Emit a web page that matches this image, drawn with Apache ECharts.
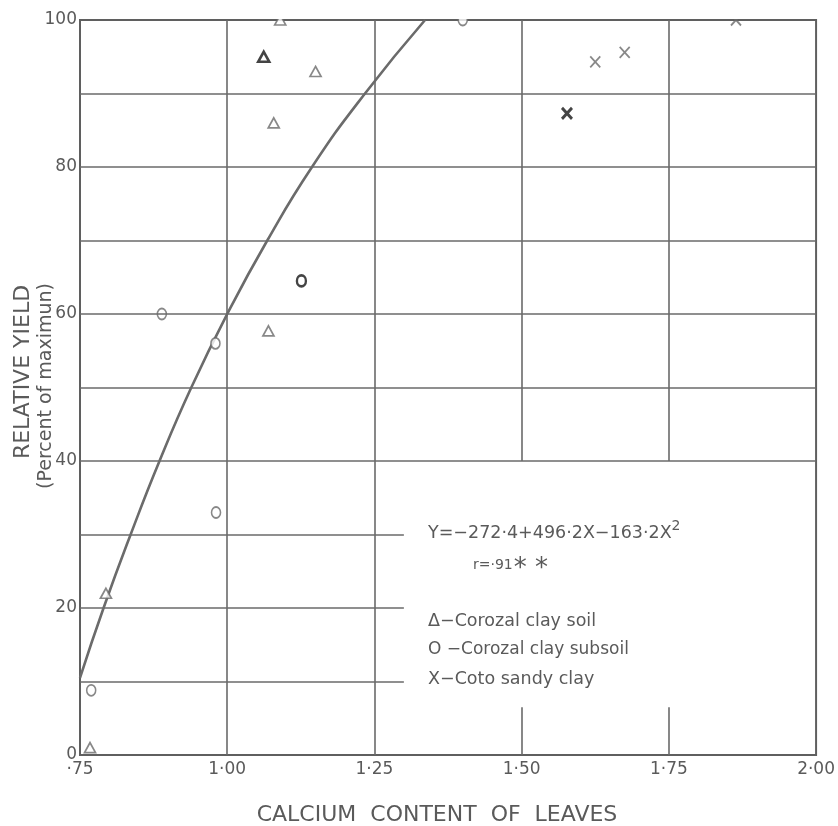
<!DOCTYPE html>
<html>
<head>
<meta charset="utf-8">
<script src="https://cdn.jsdelivr.net/npm/echarts@6/dist/echarts.min.js"></script>
<style>
html,body{margin:0;padding:0;background:#fff;}
#chart{width:838px;height:826px;}
</style>
</head>
<body>
<div id="chart"></div>
<script>
// ---- data ----
const xTickLabels = ['·75', '1·00', '1·25', '1·50', '1·75', '2·00'];
const yTickLabels = ['0', '20', '40', '60', '80', '100'];

// fitted curve
const curveX = [0.75, 0.790, 0.836, 0.885, 0.939, 1.00, 1.068, 1.144, 1.234, 1.336];
const curveY = [10.5, 20, 30, 40, 50, 60, 70, 80, 90, 100];

// Δ Corozal clay soil
const soilX = [1.09, 1.062, 1.15, 1.079, 1.07, 0.794, 0.767];
const soilY = [100, 95, 93, 86, 57.7, 22, 1];
const soilBold = [1];

// O Corozal clay subsoil
const subsoilX = [1.40, 0.889, 0.98, 1.126, 0.981, 0.769];
const subsoilY = [100, 60, 56, 64.5, 33, 8.8];
const subsoilBold = [3];

// X Coto sandy clay
const cotoX = [1.864, 1.675, 1.625, 1.577];
const cotoY = [100, 95.6, 94.3, 87.3];
const cotoBold = [3];

// ruled grid of the original drawing
const hLinesFull = [40, 50, 60, 70, 80, 90];
const hLinesShort = [10, 20, 30];
const hShortEnd = 1.30;
const vLinesFull = [1.00, 1.25];
const vLinesBroken = [1.50, 1.75];
const vBrokenLow = 6.5;
const vBrokenHigh = 40;

// ---- build chart ----
const INK = '#5a5a5a';
const DARK = '#151515';
const FONT = 'DejaVu Sans';

function pts(xs, ys, bold, strong) {
  return xs.map((x, i) => {
    const o = { value: [x, ys[i]] };
    if (bold.indexOf(i) >= 0) o.itemStyle = strong;
    return o;
  });
}

const segs = [];
hLinesFull.forEach(y => segs.push([{ coord: [0.75, y] }, { coord: [2.0, y] }]));
hLinesShort.forEach(y => segs.push([{ coord: [0.75, y] }, { coord: [hShortEnd, y] }]));
vLinesFull.forEach(x => segs.push([{ coord: [x, 0] }, { coord: [x, 100] }]));
vLinesBroken.forEach(x => {
  segs.push([{ coord: [x, 0] }, { coord: [x, vBrokenLow] }]);
  segs.push([{ coord: [x, vBrokenHigh] }, { coord: [x, 100] }]);
});

const chart = echarts.init(document.getElementById('chart'));
const baseStyle = { color: '#fff', borderColor: '#6a6a6a', borderWidth: 1.7 };
const strongStyle = { color: '#fff', borderColor: DARK, borderWidth: 2.6 };
const xBase = { color: 'transparent', borderColor: '#6a6a6a', borderWidth: 1.9 };
const xStrong = { color: 'transparent', borderColor: DARK, borderWidth: 3 };

chart.setOption({
  animation: false,
  backgroundColor: '#fff',
  grid: { left: 80, right: 21, top: 20, bottom: 71, show: true, borderColor: '#5f5f5f', borderWidth: 2, backgroundColor: 'transparent' },
  xAxis: {
    type: 'value', min: 0.75, max: 2.0, interval: 0.25,
    axisLine: { show: false }, axisTick: { show: false }, splitLine: { show: false },
    axisLabel: {
      margin: 6, color: INK, fontFamily: FONT, fontSize: 17,
      formatter: v => xTickLabels[Math.round((v - 0.75) / 0.25)]
    }
  },
  yAxis: {
    type: 'value', min: 0, max: 100, interval: 20,
    axisLine: { show: false }, axisTick: { show: false }, splitLine: { show: false },
    axisLabel: {
      margin: 3, color: INK, fontFamily: FONT, fontSize: 17,
      formatter: v => yTickLabels[Math.round(v / 20)]
    }
  },
  series: [
    {
      type: 'line', data: [], z: 1, silent: true,
      markLine: {
        silent: true, symbol: 'none', animation: false,
        label: { show: false },
        lineStyle: { color: '#6a6a6a', width: 1.6, type: 'solid' },
        data: segs
      }
    },
    {
      type: 'line', z: 2, smooth: 0.5, showSymbol: false, silent: true,
      lineStyle: { color: '#6b6b6b', width: 2.6 },
      data: curveX.map((x, i) => [x, curveY[i]])
    },
    {
      type: 'scatter', z: 3, symbol: 'triangle', symbolSize: [11, 10],
      itemStyle: baseStyle,
      data: pts(soilX, soilY, soilBold, strongStyle)
    },
    {
      type: 'scatter', z: 3, symbol: 'circle', symbolSize: [9, 11],
      itemStyle: baseStyle,
      data: pts(subsoilX, subsoilY, subsoilBold, strongStyle)
    },
    {
      type: 'scatter', z: 3, symbol: 'path://M0,0L10,12M10,0L0,12', symbolSize: [10, 11],
      itemStyle: xBase,
      data: pts(cotoX, cotoY, cotoBold, xStrong)
    }
  ],
  graphic: [
    { type: 'rect', z: 100, shape: { x: 81, y: 0, width: 757, height: 19 }, style: { fill: '#fff' } },
    { type: 'text', z: 101, x: 23, y: 372, rotation: Math.PI / 2,
      style: { text: 'RELATIVE YIELD', fill: INK, font: '22px "' + FONT + '"', textAlign: 'center', textVerticalAlign: 'middle' } },
    { type: 'text', z: 101, x: 46, y: 386, rotation: Math.PI / 2,
      style: { text: '(Percent of maximun)', fill: INK, font: '19px "' + FONT + '"', textAlign: 'center', textVerticalAlign: 'middle' } },
    { type: 'text', z: 101, x: 437, y: 815,
      style: { text: 'CALCIUM  CONTENT  OF  LEAVES', fill: INK, font: '22px "' + FONT + '"', textAlign: 'center', textVerticalAlign: 'middle' } },
    { type: 'text', z: 101, x: 428, y: 533,
      style: { text: 'Y=−272·4+496·2X−163·2X{s|2}', fill: INK, font: '17.5px "' + FONT + '"', textVerticalAlign: 'middle',
        rich: { s: { fontSize: 14, fontFamily: FONT, fill: INK, verticalAlign: 'top', padding: [0, 0, 13, 0] } } } },
    { type: 'text', z: 101, x: 473, y: 565,
      style: { text: 'r=·91{a|* *}', fill: INK, font: '14px "' + FONT + '"', textVerticalAlign: 'middle',
        rich: { a: { fontSize: 26, fontFamily: FONT, fill: INK, padding: [8, 0, 0, 1] } } } },
    { type: 'text', z: 101, x: 428, y: 621,
      style: { text: 'Δ−Corozal clay soil', fill: INK, font: '17.5px "' + FONT + '"', textVerticalAlign: 'middle' } },
    { type: 'text', z: 101, x: 428, y: 650,
      style: { text: 'O −Corozal clay subsoil', fill: INK, font: '17px "' + FONT + '"', textVerticalAlign: 'middle' } },
    { type: 'text', z: 101, x: 428, y: 679,
      style: { text: 'X−Coto sandy clay', fill: INK, font: '17.5px "' + FONT + '"', textVerticalAlign: 'middle' } }
  ]
});
</script>
</body>
</html>
